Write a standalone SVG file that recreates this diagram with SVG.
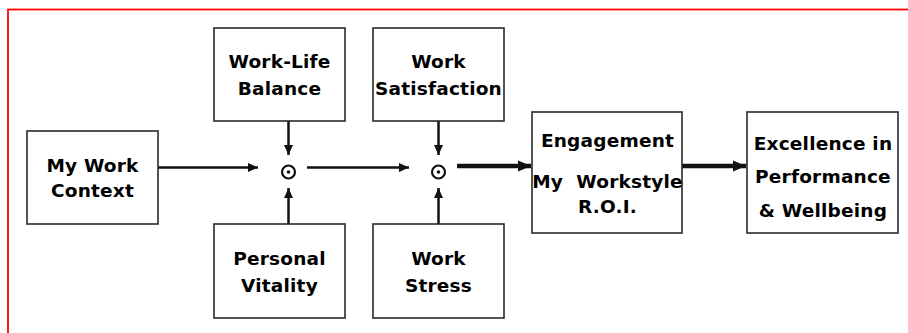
<svg xmlns="http://www.w3.org/2000/svg" width="908" height="333" viewBox="0 0 908 333">
<style>
.box{fill:#fff;stroke:#2a2a2a;stroke-width:1.6}
.t{font-family:"DejaVu Sans",Verdana,sans-serif;font-weight:bold;font-size:18.5px;fill:#000;text-anchor:middle;letter-spacing:0.2px;white-space:pre}
.ln{stroke:#111;stroke-width:2.5;fill:none}
.thick{stroke:#111;stroke-width:4.5;fill:none}
.junc{fill:none;stroke:#111;stroke-width:2.2}
</style>
<defs>
<marker id="a" markerUnits="userSpaceOnUse" markerWidth="12" markerHeight="10" refX="10" refY="4.5" orient="auto" viewBox="0 0 12 9">
<path d="M0,0 L10,4.5 L0,9 Z" fill="#111"/>
</marker>
<marker id="b" markerUnits="userSpaceOnUse" markerWidth="14" markerHeight="12" refX="13" refY="5.5" orient="auto" viewBox="0 0 14 11">
<path d="M0,0 L13,5.5 L0,11 Z" fill="#111"/>
</marker>
</defs>
<rect x="0" y="0" width="908" height="333" fill="#fff"/>
<rect x="8" y="9.5" width="920" height="340" fill="none" stroke="#f00" stroke-width="1.8"/>

<g id="connectors">
<line class="ln" x1="158" y1="167.5" x2="258" y2="167.5" marker-end="url(#a)"/>
<line class="ln" x1="307" y1="167.5" x2="409" y2="167.5" marker-end="url(#a)"/>
<line class="thick" x1="457" y1="166" x2="531" y2="166" marker-end="url(#b)"/>
<line class="thick" x1="682" y1="166" x2="746" y2="166" marker-end="url(#b)"/>
<line class="ln" x1="288.5" y1="121" x2="288.5" y2="155" marker-end="url(#a)"/>
<line class="ln" x1="288.5" y1="224" x2="288.5" y2="188" marker-end="url(#a)"/>
<line class="ln" x1="438.5" y1="121" x2="438.5" y2="155" marker-end="url(#a)"/>
<line class="ln" x1="438.5" y1="224" x2="438.5" y2="188" marker-end="url(#a)"/>
</g>

<g id="junction1">
<circle class="junc" cx="288.5" cy="172" r="6.5"/>
<circle cx="288.5" cy="172" r="1.8" fill="#111"/>
</g>
<g id="junction2">
<circle class="junc" cx="438.5" cy="172" r="6.5"/>
<circle cx="438.5" cy="172" r="1.8" fill="#111"/>
</g>

<g id="myWorkContext">
<rect class="box" x="27" y="131" width="131" height="93"/>
<text class="t" x="92.5" y="172">My Work</text>
<text class="t" x="92.5" y="197">Context</text>
</g>
<g id="workLifeBalance">
<rect class="box" x="214" y="28" width="131" height="93"/>
<text class="t" x="279.5" y="67.5">Work-Life</text>
<text class="t" x="279.5" y="95">Balance</text>
</g>
<g id="workSatisfaction">
<rect class="box" x="373" y="28" width="131" height="93"/>
<text class="t" x="438.5" y="67.5">Work</text>
<text class="t" x="438.5" y="95">Satisfaction</text>
</g>
<g id="personalVitality">
<rect class="box" x="214" y="224" width="131" height="94"/>
<text class="t" x="279.5" y="265">Personal</text>
<text class="t" x="279.5" y="292">Vitality</text>
</g>
<g id="workStress">
<rect class="box" x="373" y="224" width="131" height="94"/>
<text class="t" x="438.5" y="265">Work</text>
<text class="t" x="438.5" y="292">Stress</text>
</g>
<g id="engagement">
<rect class="box" x="532" y="112" width="150" height="121"/>
<text class="t" x="607.5" y="147">Engagement</text>
<text class="t" x="607.5" y="187.5">My  Workstyle</text>
<text class="t" x="607.5" y="213">R.O.I.</text>
</g>
<g id="excellence">
<rect class="box" x="747" y="112" width="151" height="121"/>
<text class="t" x="823" y="150">Excellence in</text>
<text class="t" x="823" y="183">Performance</text>
<text class="t" x="823" y="217">&amp; Wellbeing</text>
</g>
</svg>
